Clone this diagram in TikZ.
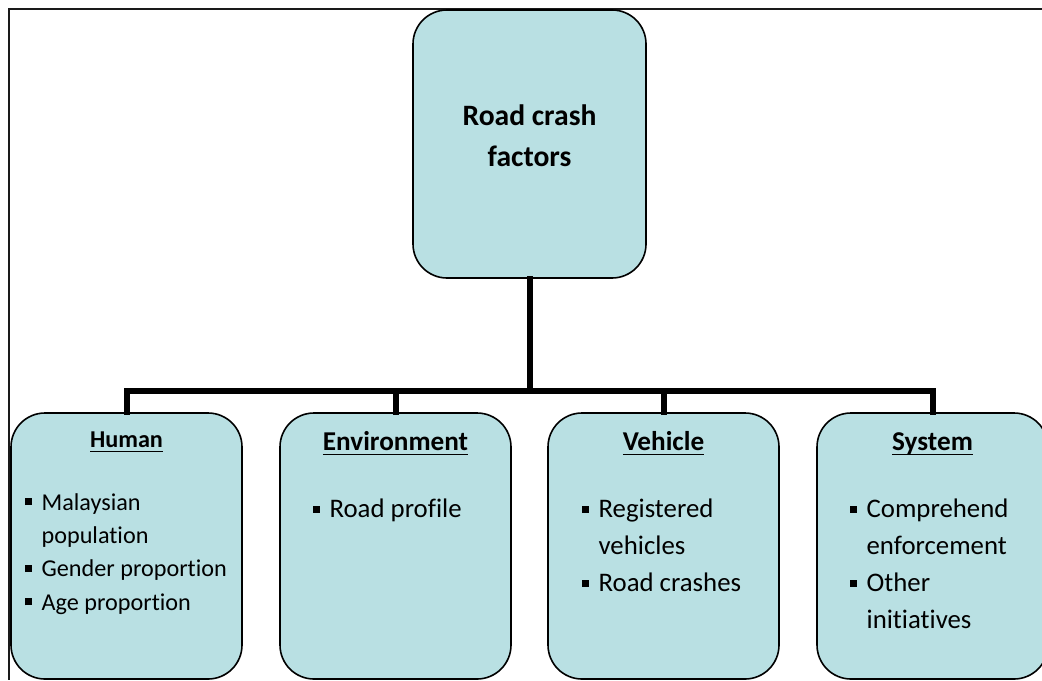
\documentclass[tikz,border=0pt]{standalone}
\usepackage{fontspec}
\setmainfont{Carlito}[Ligatures={NoCommon,NoRequired,NoContextual}]
\usetikzlibrary{positioning}
\definecolor{fillBox}{HTML}{B9E0E3}
\definecolor{borderFrame}{HTML}{1A1A1A}
\newcommand{\sqb}{\makebox[8.5pt][l]{\rule[2.4pt]{3.6pt}{3.6pt}}}
\newcommand{\hang}{\hspace*{8.5pt}}
\newcommand{\ultitle}[1]{\setbox0\hbox{#1}\rlap{\rule[-2.6pt]{\wd0}{0.9pt}}\box0}

\begin{document}
\begin{tikzpicture}[
    x=0.5pt, y=-0.5pt,
    tree/.style={line width=3pt, line cap=rect},
    boxstyle/.style={rectangle, draw=black, line width=0.8pt, fill=fillBox, rounded corners=17pt},
    catbox/.style={boxstyle, minimum width=115.5pt, minimum height=133pt, inner sep=0pt},
    cattitle/.style={anchor=base, inner sep=0pt, font=\bfseries\fontsize{13.6}{16}\selectfont},
    catlist/.style={anchor=north west, inner sep=0pt, align=left, font=\fontsize{13.4}{18.5}\selectfont}
]

    \useasboundingbox (0,0) rectangle (1042,680);

    % ==========================================
    % 1. FRAME
    % ==========================================
    \draw[borderFrame, line width=1.3pt] (1042,9) -- (9,9) -- (9,680);

    % ==========================================
    % 2. ROOT NODE
    % ==========================================
    \node[
        boxstyle,
        minimum width=116.5pt,
        minimum height=134pt,
        inner sep=0pt
    ] (crash) at (529.5,144) {};
    \node[
        inner sep=0pt,
        align=center,
        font=\bfseries\fontsize{14.8}{20.5}\selectfont
    ] (crashT) at ([yshift=4.25pt]crash.center) {Road crash\\factors};

    % ==========================================
    % 3. CATEGORY BOXES
    % ==========================================
    \node[catbox] (human)  at (126.5,546) {};
    \node[catbox] (enviro) at (395.5,546) {};
    \node[catbox] (vehicle) at (663.5,546) {};
    \node[catbox] (system) at (932.5,546) {};

    % titles
    \node[cattitle, font=\bfseries\fontsize{12.1}{14}\selectfont] (humanT) at ([yshift=-17.5pt]human.north) {\ultitle{Human}};
    \node[cattitle] (enviroT)  at ([yshift=-19pt]enviro.north) {\ultitle{Environment}};
    \node[cattitle] (vehicleT) at ([yshift=-19pt]vehicle.north) {\ultitle{Vehicle}};
    \node[cattitle] (systemT)  at ([yshift=-19pt]system.north) {\ultitle{System}};

    % item lists
    \node[catlist, font=\fontsize{12.1}{16.7}\selectfont] (humanL) at ([xshift=7pt,yshift=-40.3pt]human.north west)
        {\sqb Malaysian\\\hang population\\\sqb Gender proportion\\\sqb Age proportion};
    \node[catlist] (enviroL) at ([xshift=16.5pt,yshift=-43.2pt]enviro.north west)
        {\sqb Road profile};
    \node[catlist] (vehicleL) at ([xshift=17pt,yshift=-43.2pt]vehicle.north west)
        {\sqb Registered\\\hang vehicles\\\sqb Road crashes};
    \node[catlist] (systemL) at ([xshift=16.5pt,yshift=-43.2pt]system.north west)
        {\sqb Comprehend\\\hang enforcement\\\sqb Other\\\hang initiatives};

    % ==========================================
    % 4. TREE CONNECTORS
    % ==========================================
    \coordinate (bar) at (530,391);

    \draw[tree] (crash.south) -- (crash.south |- bar);
    \draw[tree] (human.north) -- (human.north |- bar) -- (system.north |- bar) -- (system.north);
    \draw[tree] (enviro.north) -- (enviro.north |- bar);
    \draw[tree] (vehicle.north) -- (vehicle.north |- bar);

\end{tikzpicture}
\end{document}
